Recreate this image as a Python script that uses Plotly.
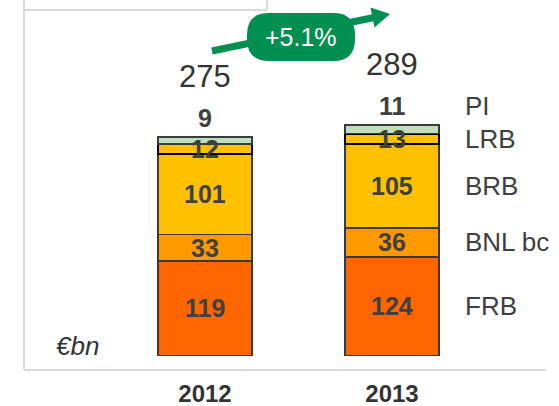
import plotly.graph_objects as go

# ---------------- data ----------------
categories = ["2012", "2013"]
series_names = ["FRB", "BNL bc", "BRB", "LRB", "PI"]
frb = [119, 124]
bnl_bc = [33, 36]
brb = [101, 105]
lrb = [12, 13]
pi = [9, 11]
totals = [275, 289]
growth_label = "+5.1%"
unit_label = "€bn"

series_values = [frb, bnl_bc, brb, lrb, pi]
colors = ["#FF6600", "#FF9900", "#FFC000", "#FFC000", "#BDE0BD"]
line_colors = ["#3a3a3a", "#3a3a3a", "#3a3a3a", "#000000", "#3a3a3a"]
line_widths = [1.5, 1.5, 1.5, 2, 1.5]

W, H = 559, 406
FONT = "Liberation Sans, Arial, sans-serif"
TXT = "#404040"

# plot area: full width, bottom at pixel 356
MB = 50
plot_h = H - MB


def px(x):
    return x / W


def py(y):
    return (plot_h - y) / plot_h


fig = go.Figure()
for name, vals, c, lc, lw in zip(series_names, series_values, colors, line_colors, line_widths):
    fig.add_trace(go.Bar(
        x=categories, y=vals, name=name,
        marker=dict(color=c, line=dict(color=lc, width=lw)),
        width=0.503, showlegend=False, hoverinfo="skip",
    ))

annotations = []
# segment labels (x given as category index)
for j, cat in enumerate(categories):
    base = 0
    for i, vals in enumerate(series_values):
        v = vals[j]
        if series_names[i] == "PI":
            y, ys = base + v, 19
        else:
            y, ys = base + v / 2, 0
        annotations.append(dict(x=j, y=y, yshift=ys, text=str(v), showarrow=False,
                                xanchor="center", yanchor="middle",
                                font=dict(family=FONT, size=25, color=TXT, weight="bold")))
        base += v
    # total label
    annotations.append(dict(x=j, y=sum(vals[j] for vals in series_values), text=str(totals[j]),
                            showarrow=False, yshift=60, xanchor="center", yanchor="middle",
                            font=dict(family=FONT, size=31, color="#333333")))

# right-hand series labels (aligned with last category)
j = len(categories) - 1
base = 0
for i, vals in enumerate(series_values):
    v = vals[j]
    if series_names[i] == "PI":
        y, ys = base + v, 19
    else:
        y, ys = base + v / 2, 0
    annotations.append(dict(xref="paper", x=px(463), y=y, yshift=ys, text=series_names[i],
                            xanchor="left", yanchor="middle", showarrow=False,
                            font=dict(family=FONT, size=26, color=TXT)))
    base += v

annotations.append(dict(xref="paper", yref="paper", x=px(54), y=py(346), text=unit_label,
                        xanchor="left", yanchor="middle", showarrow=False,
                        font=dict(family=FONT, size=26, color="#333333", style="italic")))
annotations.append(dict(xref="paper", yref="paper", x=px(301), y=py(37), text=growth_label,
                        xanchor="center", yanchor="middle", showarrow=False,
                        font=dict(family=FONT, size=25, color="white")))

# ---------------- decorative shapes ----------------
shapes = []
frame = dict(color="#D9D9D9", width=2)
shapes.append(dict(type="line", xref="paper", yref="paper", x0=px(24), x1=px(24), y0=py(-2), y1=py(370), line=frame))
shapes.append(dict(type="line", xref="paper", yref="paper", x0=px(24), x1=px(546), y0=py(370), y1=py(370), line=frame))
shapes.append(dict(type="line", xref="paper", yref="paper", x0=px(24), x1=px(267), y0=py(10), y1=py(10), line=frame))
shapes.append(dict(type="line", xref="paper", yref="paper", x0=px(267), x1=px(267), y0=py(-2), y1=py(10), line=frame))

GREEN = "#008F50"
# arrow line + head
shapes.append(dict(type="line", xref="paper", yref="paper", x0=px(212), y0=py(51), x1=px(374), y1=py(17.5),
                   line=dict(color=GREEN, width=7)))
head = [(390, 14), (374.5, 27.5), (370.5, 7.5)]
path = "M {} {} L {} {} L {} {} Z".format(*[v for p in head for v in (px(p[0]), py(p[1]))])
shapes.append(dict(type="path", xref="paper", yref="paper", path=path, fillcolor=GREEN, line=dict(width=0)))

# pill
cx, cy, w, h, r = 301, 37, 108, 48, 22
x0, x1, y0, y1 = cx - w / 2, cx + w / 2, cy - h / 2, cy + h / 2
pts = [
    ("M", (x0 + r, y0)), ("L", (x1 - r, y0)), ("Q", (x1, y0), (x1, y0 + r)),
    ("L", (x1, y1 - r)), ("Q", (x1, y1), (x1 - r, y1)), ("L", (x0 + r, y1)),
    ("Q", (x0, y1), (x0, y1 - r)), ("L", (x0, y0 + r)), ("Q", (x0, y0), (x0 + r, y0)),
]
segs = []
for cmd, *ps in pts:
    segs.append(cmd + " " + " ".join("{:.5f},{:.5f}".format(px(a), py(b)) for a, b in ps))
shapes.append(dict(type="path", xref="paper", yref="paper", path=" ".join(segs) + " Z",
                   fillcolor=GREEN, line=dict(width=0)))

fig.update_layout(
    width=W, height=H, barmode="stack",
    margin=dict(l=0, r=0, t=0, b=MB, pad=0),
    paper_bgcolor="white", plot_bgcolor="white",
    xaxis=dict(type="category", range=[-205 / 187, -205 / 187 + W / 187],
               showgrid=False, zeroline=False, showline=False, automargin=False,
               ticks="outside", ticklen=16, tickcolor="rgba(0,0,0,0)",
               tickfont=dict(family=FONT, size=24, color="#333333", weight="bold")),
    yaxis=dict(range=[0, plot_h / 0.8], visible=False),
    annotations=annotations, shapes=shapes,
)

fig.write_html("out.html", config={"displayModeBar": False},
               post_script="document.body.style.margin='0';")
